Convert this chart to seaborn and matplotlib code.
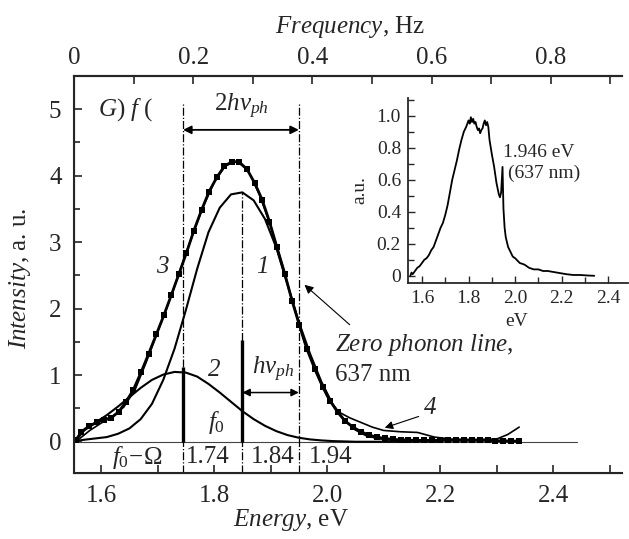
import matplotlib
matplotlib.use('Agg')
import matplotlib.pyplot as plt
import seaborn as sns
from matplotlib.ticker import MultipleLocator

# curve 3: measured spectrum (squares)
energy_3 = [1.555, 1.565, 1.578, 1.592, 1.605, 1.618, 1.631, 1.644, 1.657, 1.671, 1.684, 1.698,
            1.711, 1.724, 1.738, 1.751, 1.764, 1.778, 1.791, 1.805, 1.818, 1.831, 1.844, 1.858,
            1.872, 1.885, 1.898, 1.911, 1.925, 1.938, 1.951, 1.964, 1.978, 1.992, 2.005, 2.019,
            2.032, 2.046, 2.060, 2.074, 2.088, 2.102, 2.116, 2.130, 2.144, 2.158, 2.172, 2.186,
            2.200, 2.214, 2.228, 2.242, 2.256, 2.270, 2.284, 2.298, 2.312, 2.326, 2.340]
intensity_3 = [0.02, 0.15, 0.23, 0.29, 0.33, 0.36, 0.45, 0.60, 0.78, 1.05, 1.32, 1.62,
               1.90, 2.20, 2.53, 2.84, 3.17, 3.49, 3.76, 3.98, 4.14, 4.21, 4.21, 4.10,
               3.89, 3.64, 3.31, 2.93, 2.53, 2.12, 1.75, 1.40, 1.10, 0.83, 0.62, 0.44,
               0.31, 0.22, 0.15, 0.10, 0.07, 0.05, 0.035, 0.03, 0.025, 0.02, 0.02, 0.02,
               0.02, 0.02, 0.02, 0.02, 0.02, 0.02, 0.02, 0.015, 0.015, 0.01, 0.01]

# curve 1: zero phonon related band
energy_1 = [1.555, 1.57, 1.59, 1.61, 1.63, 1.65, 1.67, 1.69, 1.71, 1.73, 1.75, 1.77, 1.79, 1.81,
            1.83, 1.85, 1.87, 1.89, 1.91, 1.93, 1.95, 1.97, 1.99, 2.01, 2.03, 2.05, 2.07, 2.09,
            2.11, 2.13, 2.15, 2.20]
intensity_1 = [0.01, 0.03, 0.05, 0.07, 0.12, 0.20, 0.34, 0.57, 0.93, 1.40, 1.98, 2.60, 3.15, 3.52,
               3.72, 3.75, 3.63, 3.35, 2.92, 2.36, 1.80, 1.32, 0.90, 0.56, 0.33, 0.18, 0.09, 0.05,
               0.03, 0.02, 0.01, 0.0]

# curve 2: phonon side band
energy_2 = [1.555, 1.57, 1.59, 1.61, 1.63, 1.65, 1.67, 1.69, 1.71, 1.73, 1.75, 1.77, 1.79, 1.81,
            1.83, 1.85, 1.87, 1.89, 1.91, 1.93, 1.95, 1.97, 1.99, 2.01, 2.05, 2.15]
intensity_2 = [0.02, 0.17, 0.29, 0.40, 0.53, 0.67, 0.81, 0.93, 1.01, 1.05, 1.04, 0.98, 0.87, 0.74,
               0.60, 0.46, 0.34, 0.24, 0.16, 0.10, 0.06, 0.035, 0.02, 0.01, 0.0, 0.0]

# curve 4: sum curve
energy_4 = [1.555, 1.58, 1.60, 1.62, 1.64, 1.66, 1.68, 1.70, 1.72, 1.74, 1.76, 1.78, 1.80, 1.82,
            1.84, 1.86, 1.88, 1.90, 1.92, 1.94, 1.96, 1.98, 2.00, 2.02, 2.04, 2.06, 2.08, 2.10,
            2.13, 2.16, 2.19, 2.22, 2.26, 2.30, 2.32, 2.34]
intensity_4 = [0.0, 0.17, 0.28, 0.38, 0.52, 0.78, 1.20, 1.65, 2.10, 2.58, 3.07, 3.52, 3.90, 4.15,
               4.22, 4.08, 3.72, 3.25, 2.68, 2.07, 1.50, 1.05, 0.68, 0.45, 0.36, 0.29, 0.22, 0.17,
               0.15, 0.14, 0.07, 0.04, 0.035, 0.04, 0.11, 0.22]

baseline_energy = [1.555, 2.442]
baseline_value = [0.0, 0.0]

# marker lines
line_f0_omega = 1.745
line_f0 = 1.85
line_right = 1.95
bar_heights = [1.13, 1.53]

# inset spectrum
energy_inset = [1.550, 1.555, 1.560, 1.570, 1.580, 1.590, 1.600, 1.610, 1.620, 1.630, 1.640,
                1.650, 1.660, 1.670, 1.680, 1.690, 1.700, 1.710, 1.720, 1.730, 1.740, 1.750,
                1.760, 1.770, 1.780, 1.790, 1.800, 1.805, 1.810, 1.815, 1.820, 1.825, 1.830,
                1.835, 1.840, 1.845, 1.850, 1.855, 1.860, 1.865, 1.870, 1.875, 1.880, 1.885,
                1.890, 1.900, 1.910, 1.920, 1.930, 1.935, 1.940, 1.946, 1.950, 1.955, 1.960,
                1.970, 1.980, 1.990, 2.000, 2.020, 2.040, 2.060, 2.080, 2.100, 2.120, 2.140,
                2.160, 2.180, 2.200, 2.220, 2.250, 2.280, 2.310, 2.340]
intensity_inset = [0.00, 0.02, 0.01, 0.03, 0.05, 0.06, 0.08, 0.10, 0.11, 0.13, 0.16,
                   0.18, 0.22, 0.26, 0.30, 0.33, 0.38, 0.44, 0.52, 0.60, 0.66, 0.72,
                   0.79, 0.85, 0.90, 0.93, 0.97, 0.95, 0.99, 0.96, 0.98, 0.95, 0.96,
                   0.93, 0.91, 0.92, 0.89, 0.91, 0.92, 0.95, 0.97, 0.94, 0.96, 0.93,
                   0.85, 0.76, 0.68, 0.58, 0.51, 0.49, 0.52, 0.68, 0.42, 0.30, 0.24,
                   0.18, 0.15, 0.12, 0.11, 0.08, 0.07, 0.05, 0.04, 0.04, 0.03, 0.03,
                   0.025, 0.02, 0.015, 0.01, 0.005, 0.005, 0.002, 0.0]

energy_ticks = [1.6, 1.8, 2.0, 2.2, 2.4]
freq_ticks = [0, 0.2, 0.4, 0.6, 0.8]
freq_labels = ['0', '0.2', '0.4', '0.6', '0.8']
inset_yticks = [0, 0.2, 0.4, 0.6, 0.8, 1.0]
inset_ylabels = ['0', '0.2', '0.4', '0.6', '0.8', '1.0']

sns.set_style('ticks')
plt.rcParams['font.family'] = ['Liberation Serif', 'DejaVu Serif']
plt.rcParams['mathtext.fontset'] = 'custom'
plt.rcParams['mathtext.rm'] = 'Liberation Serif'
plt.rcParams['mathtext.it'] = 'Liberation Serif:italic'
plt.rcParams['mathtext.bf'] = 'Liberation Serif:bold'
plt.rcParams['mathtext.fallback'] = 'stix'

fig = plt.figure(figsize=(6.29, 5.39), dpi=100)
ax = fig.add_axes([74 / 629, 1 - 473 / 539, 548 / 629, 397 / 539])

sns.lineplot(x=baseline_energy, y=baseline_value, ax=ax, color='#444444', lw=0.8, estimator=None)
sns.lineplot(x=energy_2, y=intensity_2, ax=ax, color='black', lw=1.5, estimator=None)
sns.lineplot(x=energy_1, y=intensity_1, ax=ax, color='black', lw=1.5, estimator=None)
sns.lineplot(x=energy_4, y=intensity_4, ax=ax, color='black', lw=1.2, estimator=None)
sns.lineplot(x=energy_3, y=intensity_3, ax=ax, color='black', lw=2.0, estimator=None,
             marker='s', markersize=4.2, markeredgewidth=0)

# vertical dash-dot guides
ax.vlines([line_f0_omega, line_right], -0.47, 5.1, colors='black', lw=0.9, linestyles='-.')
ax.vlines([line_f0], -0.47, 3.75, colors='black', lw=0.9, linestyles='-.')
ax.vlines([line_f0_omega, line_f0], [0, 0], bar_heights, colors='black', lw=2.4)

# arrows
ax.annotate('', xy=(line_f0_omega, 4.69), xytext=(line_right, 4.69),
            arrowprops=dict(arrowstyle='<|-|>', color='black', lw=1.3, mutation_scale=12, shrinkA=0, shrinkB=0))
ax.annotate('', xy=(line_f0, 0.74), xytext=(line_right, 0.74),
            arrowprops=dict(arrowstyle='<|-|>', color='black', lw=1.1, mutation_scale=11, shrinkA=0, shrinkB=0))
ax.annotate('', xy=(1.960, 2.36), xytext=(2.04, 1.76),
            arrowprops=dict(arrowstyle='-|>', color='black', lw=0.8, mutation_scale=13, shrinkA=0, shrinkB=0))
ax.annotate('', xy=(2.102, 0.21), xytext=(2.162, 0.38),
            arrowprops=dict(arrowstyle='-|>', color='black', lw=0.8, mutation_scale=12, shrinkA=0, shrinkB=0))

# texts
ax.text(1.849, 5.04, r'$2h\nu_{ph}$', ha='center', va='center', fontsize=18)
ax.text(1.904, 1.08, r'$h\nu_{ph}$', ha='center', va='center', fontsize=18)
ax.text(1.594, 5.0, r'$G$) $f$ (', ha='left', va='center', fontsize=18)
ax.text(1.708, 2.63, '3', ha='center', va='center', fontsize=18, fontstyle='italic')
ax.text(1.886, 2.63, '1', ha='center', va='center', fontsize=18, fontstyle='italic')
ax.text(1.800, 1.08, '2', ha='center', va='center', fontsize=18, fontstyle='italic')
ax.text(2.182, 0.51, '4', ha='center', va='center', fontsize=18, fontstyle='italic')
ax.text(1.805, 0.29, r'$f_0$', ha='center', va='center', fontsize=18)
ax.text(1.664, -0.23, r'$f_0\!-\!\Omega$', ha='center', va='center', fontsize=18)
ax.text(1.789, -0.23, '1.74', ha='center', va='center', fontsize=18)
ax.text(1.904, -0.23, '1.84', ha='center', va='center', fontsize=18)
ax.text(2.007, -0.23, '1.94', ha='center', va='center', fontsize=18)
ax.text(2.014, 1.46, r'$Zero\ phonon\ line$,', ha='left', va='center', fontsize=18)
ax.text(2.014, 1.0, '637 nm', ha='left', va='center', fontsize=18)

ax.set_xlim(1.552, 2.522)
ax.set_ylim(-0.47, 5.5)
ax.set_xticks(energy_ticks)
ax.xaxis.set_minor_locator(MultipleLocator(0.1))
ax.yaxis.set_major_locator(MultipleLocator(1))
ax.yaxis.set_minor_locator(MultipleLocator(0.5))
ax.tick_params(which='both', direction='in', width=1.2, labelsize=18, top=False, right=False)
ax.tick_params(axis='x', which='both', length=6, pad=9)
ax.tick_params(axis='y', which='major', length=6, pad=9)
ax.tick_params(axis='y', which='minor', length=4)
ax.spines['right'].set_visible(False)
for s in ['left', 'bottom', 'top']:
    ax.spines[s].set_linewidth(1.5)
ax.set_xlabel('')
ax.set_ylabel('')

ax_top = ax.twiny()
ax_top.set_xlim(0, 547 / 595)
ax_top.set_xticks(freq_ticks)
ax_top.set_xticklabels(freq_labels)
ax_top.xaxis.set_minor_locator(MultipleLocator(0.1))
ax_top.tick_params(which='both', direction='in', length=6, width=1.2, labelsize=18, pad=5)
ax_top.spines['right'].set_visible(False)
ax_top.spines['top'].set_linewidth(1.5)

fig.text(20 / 629, 1 - 278 / 539, r'$Intensity$, a. u.', rotation=90, ha='center', va='center', fontsize=18)
fig.text(291 / 629, 1 - 520 / 539, r'$Energy$, eV', ha='center', va='center', fontsize=18)
fig.text(350 / 629, 1 - 27 / 539, r'$Frequency$, Hz', ha='center', va='center', fontsize=18)

# inset
axi = fig.add_axes([408 / 629, 1 - 283 / 539, 220 / 629, 185 / 539])
sns.lineplot(x=energy_inset, y=intensity_inset, ax=axi, color='black', lw=1.3, estimator=None)
axi.set_xlim(1.54, 2.485)
axi.set_ylim(-0.045, 1.11)
axi.set_xticks(energy_ticks)
axi.set_yticks(inset_yticks)
axi.set_yticklabels(inset_ylabels)
axi.xaxis.set_minor_locator(MultipleLocator(0.1))
axi.yaxis.set_minor_locator(MultipleLocator(0.1))
axi.tick_params(which='both', direction='in', width=1.0, labelsize=14, pad=5)
axi.tick_params(which='major', length=5)
axi.tick_params(which='minor', length=4)
axi.spines['right'].set_visible(False)
axi.spines['top'].set_visible(False)
axi.spines['left'].set_linewidth(1.3)
axi.spines['bottom'].set_linewidth(1.3)
axi.patch.set_alpha(0)
axi.set_xlabel('')
axi.set_ylabel('')
axi.text(1.948, 0.77, '1.946 eV', ha='left', va='center', fontsize=14)
axi.text(1.969, 0.64, '(637 nm)', ha='left', va='center', fontsize=14)
fig.text(360 / 629, 1 - 190 / 539, 'a.u.', rotation=90, ha='center', va='center', fontsize=14)
fig.text(517 / 629, 1 - 322 / 539, 'eV', ha='center', va='center', fontsize=14)

fig.savefig('out.png', dpi=100)
